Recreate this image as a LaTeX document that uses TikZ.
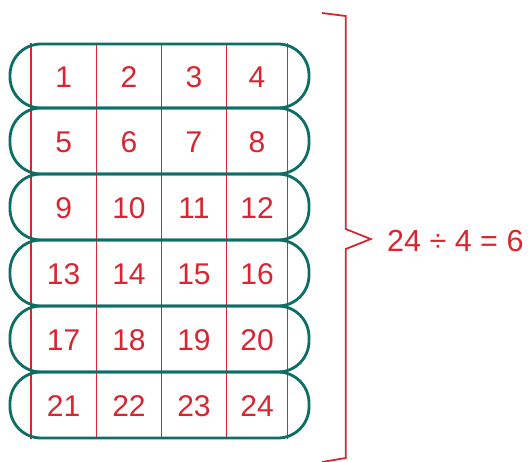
\documentclass[tikz,border=0pt]{standalone}
\usepackage{fontspec}
\setmainfont{Liberation Sans}
\definecolor{rowgreen}{HTML}{0C6E64}
\definecolor{numred}{HTML}{DA2530}
\tikzset{
  rowband/.style={draw=rowgreen, line width=2.8pt, rounded corners=31pt},
  colline/.style={draw=numred, line width=1.1pt},
  bracketline/.style={draw=numred, line width=1.8pt},
  cellnum/.style={text=numred, inner sep=0pt, anchor=base, font=\fontsize{30}{30}\selectfont},
  eqtext/.style={text=numred, inner sep=0pt, anchor=base west, font=\fontsize{30.5}{31}\selectfont}
}
\begin{document}
\begin{tikzpicture}[x=1pt, y=-1pt]
  \useasboundingbox (0,0) rectangle (532,461);
  % column separators
  \foreach \cx [count=\i] in {31,96.3,161.7,226.3,287.7} {
    \coordinate (ct\i) at (\cx,43);
    \coordinate (cb\i) at (\cx,439);
    \draw[colline] (ct\i) -- (cb\i);
  }
  % rows of four
  \foreach \top/\bot [count=\r] in {44/108,108/174,174/240,240/306,306/372,372/438} {
    \coordinate (rtl\r) at (10,\top);
    \coordinate (rbr\r) at (309,\bot);
    \draw[rowband] (rtl\r) rectangle (rbr\r);
  }
  % numbers
  \foreach \cy [count=\r] in {76,141,207,273,339,405} {
    \foreach \cx [count=\c] in {63.6,129,194,257} {
      \pgfmathtruncatemacro{\n}{(\r-1)*4+\c}
      \node[cellnum] (n\n) at (\cx,\cy+11) {\n};
    }
  }
  % brace
  \coordinate (bt0) at (322,13);
  \coordinate (bt1) at (345.7,16);
  \coordinate (bm0) at (345.7,229);
  \coordinate (btip) at (370.7,239);
  \coordinate (bm1) at (345.7,249);
  \coordinate (bb1) at (345.7,458);
  \coordinate (bb0) at (322,462);
  \draw[bracketline, line join=miter] (bt0) -- (bt1) -- (bm0) -- (btip) -- (bm1) -- (bb1) -- (bb0);
  % result
  \node[eqtext] (eq) at (387,251.5) {24 ÷ 4 = 6};
\end{tikzpicture}
\end{document}
